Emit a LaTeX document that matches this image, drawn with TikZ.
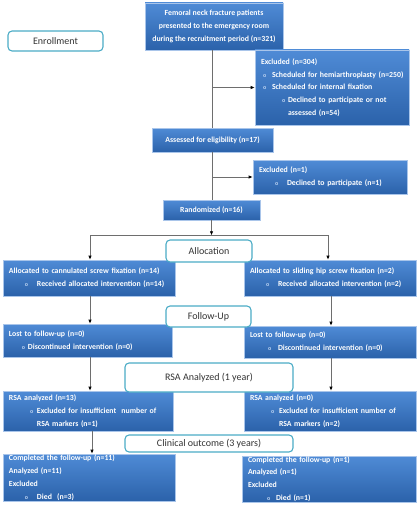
\documentclass[tikz,border=0pt]{standalone}
\usepackage{fontspec}
\setmainfont{Carlito}
\usepackage{xcolor}
\usetikzlibrary{arrows.meta,shadows}

\definecolor{boxtop}{HTML}{4F8BD6}
\definecolor{boxbot}{HTML}{2B62AA}
\definecolor{boxline}{HTML}{A9C5EA}
\definecolor{phaseline}{HTML}{4BACC6}
\definecolor{bulcol}{HTML}{B8D0F0}
\definecolor{conline}{HTML}{6E6E6E}

% bullet line: bullet offset, text offset, text
\newcommand{\bl}[3]{\hspace*{#1pt}\makebox[0pt][l]{\textcolor{bulcol}{\fontsize{6}{6}\selectfont o}}\hspace*{\dimexpr#2pt-#1pt\relax}\mbox{#3}}

\begin{document}
\begin{tikzpicture}[x=1pt,y=-1pt,
    bluebox/.style={draw=boxline, line width=0.6pt, top color=boxtop, bottom color=boxbot,
        text=white, font=\bfseries\fontsize{7.8}{12.8}\selectfont, align=left,
        inner xsep=6pt, inner ysep=0pt,
        drop shadow={opacity=0.3, shadow xshift=1pt, shadow yshift=-1pt}},
    phase/.style={draw=phaseline, line width=1.1pt, fill=white, rounded corners=4pt,
        font=\fontsize{10}{12}\selectfont, text=black!80, inner sep=0pt},
    link/.style={draw=conline, line width=0.7pt},
    arr/.style={link, -{Latex[length=4pt,width=3.4pt,color=black]}}]
    \useasboundingbox (0,0) rectangle (417,511);

    % enrollment
    \node[bluebox, align=center, minimum width=138pt, minimum height=47pt] (femoral) at (214,26.5)
        {Femoral neck fracture patients\\presented to the emergency room\\during the recruitment period (n=321)};
    \node[bluebox, minimum width=154pt, text width=142pt, minimum height=75pt] (exclA) at (332,87.5)
        {Excluded (n=304)\\
         \bl{2}{11}{Scheduled for hemiarthroplasty (n=250)}\\
         \bl{2}{11}{Scheduled for internal fixation}\\
         \bl{21}{27}{Declined to participate or not}\\
         \hspace*{27pt}assessed (n=54)};
    \node[bluebox, align=center, minimum width=121pt, minimum height=24pt] (assess) at (212.5,140)
        {Assessed for eligibility (n=17)};
    \node[bluebox, minimum width=154pt, text width=142pt, minimum height=34pt] (exclB) at (330,177)
        {Excluded (n=1)\\\bl{16}{28}{Declined to participate (n=1)}};
    \node[bluebox, align=center, minimum width=97pt, minimum height=20pt] (rand) at (211.5,210)
        {Randomized (n=16)};

    % two arms
    \node[bluebox, minimum width=172pt, text width=160pt, minimum height=36pt] (allocL) at (89,278)
        {Allocated to cannulated screw fixation (n=14)\\\bl{16}{28}{Received allocated intervention (n=14)}};
    \node[bluebox, minimum width=172pt, text width=160pt, minimum height=36pt] (allocR) at (330,278)
        {Allocated to sliding hip screw fixation (n=2)\\\bl{16}{28}{Received allocated intervention (n=2)}};
    \node[bluebox, minimum width=169pt, text width=157pt, minimum height=33pt] (lostL) at (87.5,340.5)
        {Lost to follow-up (n=0)\\\bl{13}{19}{Discontinued intervention (n=0)}};
    \node[bluebox, minimum width=172pt, text width=160pt, minimum height=32pt] (lostR) at (330,342)
        {Lost to follow-up (n=0)\\\bl{18}{28}{Discontinued intervention (n=0)}};
    \node[bluebox, minimum width=170pt, text width=158pt, minimum height=40pt] (rsaL) at (88,411)
        {RSA analyzed (n=13)\\\bl{21}{28}{Excluded for insufficient\ \ number of}\\\hspace*{28pt}RSA markers (n=1)};
    \node[bluebox, minimum width=172pt, text width=160pt, minimum height=40pt] (rsaR) at (330,411)
        {RSA analyzed (n=0)\\\bl{21}{29}{Excluded for insufficient number of}\\\hspace*{29pt}RSA markers (n=2)};
    \node[bluebox, minimum width=172pt, text width=160pt, minimum height=47pt] (clinL) at (89,477.5)
        {Completed the follow-up (n=11)\\Analyzed (n=11)\\Excluded\\\bl{16}{28}{Died\ \ (n=3)}};
    \node[bluebox, minimum width=174pt, text width=162pt, minimum height=46pt] (clinR) at (329,479)
        {Completed the follow-up (n=1)\\Analyzed (n=1)\\Excluded\\\bl{19}{28}{Died (n=1)}};

    % phase labels
    \node[phase, minimum width=95pt, minimum height=20pt] (enrollPh) at (55.5,41) {Enrollment};
    \node[phase, minimum width=86pt, minimum height=22pt] (allocPh) at (209,251) {Allocation};
    \node[phase, minimum width=85pt, minimum height=21pt] (followPh) at (208.5,316.5) {Follow-Up};
    \node[phase, minimum width=168pt, minimum height=29pt] (rsaPh) at (209,377.5) {RSA Analyzed (1 year)};
    \node[phase, minimum width=168pt, minimum height=17pt] (clinPh) at (209,443.5) {Clinical outcome (3 years)};

    % connectors
    \coordinate (colL) at (90,0);
    \coordinate (colR) at (331,0);
    \coordinate (split) at ([yshift=-15pt]rand.south);
    \draw[link] (femoral.south -| assess.north) -- (assess.north);
    \draw[arr] (assess.north |- exclA.west) -- (exclA.west);
    \draw[link] (assess.south) -- (assess.south |- rand.north);
    \draw[arr] (assess.south |- exclB.west) -- (exclB.west);
    \draw[arr] (rand.south) -- (split);
    \draw[arr] (split) -| (allocL.north -| colL);
    \draw[arr] (split) -| ([xshift=-2pt]allocR.north);
    \draw[arr] (allocL.south -| colL) -- (lostL.north -| colL);
    \draw[arr] (allocR.south -| colR) -- (lostR.north -| colR);
    \draw[arr] (lostL.south -| colL) -- (rsaL.north -| colL);
    \draw[arr] (lostR.south -| colR) -- (rsaR.north -| colR);
    \draw[arr] ([xshift=2pt]rsaL.south -| colL) -- ([xshift=2pt]clinL.north -| colL);
\end{tikzpicture}
\end{document}
